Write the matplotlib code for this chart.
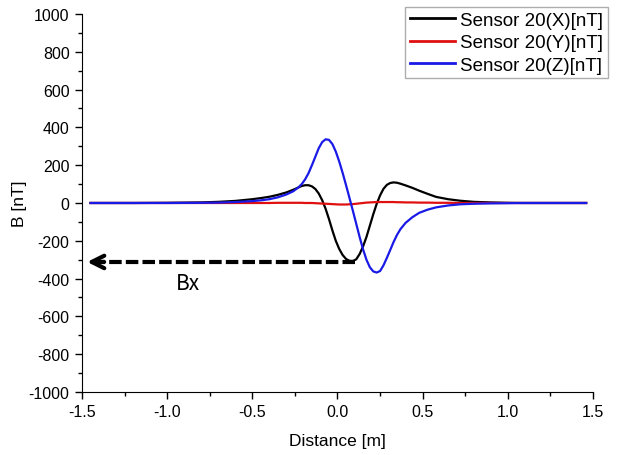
import matplotlib
matplotlib.use("Agg")
import matplotlib.pyplot as plt
from matplotlib.ticker import MultipleLocator

plt.rcParams["font.family"] = ["Liberation Sans", "DejaVu Sans"]
plt.rcParams["axes.unicode_minus"] = False

# Sensor 20 readings (distance in m, field in nT)
x_dist = [-1.45, -1.2, -1.0, -0.8, -0.7, -0.6, -0.5, -0.45, -0.4, -0.35, -0.3,
          -0.26, -0.23, -0.21, -0.19, -0.17, -0.15, -0.13, -0.11, -0.09, -0.07,
          -0.05, -0.03, -0.01, 0.01, 0.03, 0.05, 0.07, 0.09, 0.11, 0.13, 0.15,
          0.17, 0.19, 0.21, 0.23, 0.25, 0.27, 0.29, 0.31, 0.33, 0.35, 0.37,
          0.40, 0.44, 0.48, 0.53, 0.58, 0.65, 0.72, 0.80, 0.90, 1.0, 1.1,
          1.2, 1.3, 1.46]

bx = [0, 0, 1, 3, 6, 11, 20, 26, 33, 43, 56,
      70, 82, 90, 94, 94, 88, 74, 50, 15, -30,
      -85, -145, -200, -243, -275, -296, -306, -307, -298, -270, -230,
      -180, -120, -60, -5, 40, 75, 96, 106, 109, 107, 102,
      93, 80, 65, 48, 32, 20, 12, 6, 3, 1, 0,
      0, 0, 0]

by = [0, 0, 0, 0, 0, 0, 0, 0, 0, 1, 1,
      1, 1, 1, 0, 0, 0, -1, -2, -3, -4,
      -5, -6, -7, -8, -8, -8, -7, -6, -4, -2, 0,
      2, 3, 4, 5, 5, 5, 5, 5, 5, 4, 4,
      3, 3, 2, 2, 1, 1, 0, 0, 0, 0, 0,
      0, 0, 0]

bz = [0, 0, 0, 1, 2, 5, 10, 14, 20, 30, 45,
      62, 82, 100, 125, 158, 200, 245, 290, 322, 337,
      334, 312, 272, 220, 160, 95, 28, -40, -110, -180, -245,
      -300, -340, -362, -368, -360, -330, -290, -248, -205, -168, -138,
      -105, -75, -52, -35, -23, -13, -7, -4, -2, -1, 0,
      0, 0, 0]

labels = ["Sensor 20(X)[nT]", "Sensor 20(Y)[nT]", "Sensor 20(Z)[nT]"]
colors = ["#000000", "#e01010", "#1a1ae6"]

# arrow marking the Bx minimum
bx_arrow_from = (0.10, -312)
bx_arrow_to = (-1.47, -312)
bx_text_pos = (-0.88, -425)

fig = plt.figure(figsize=(6.18, 4.56), dpi=100)
ax = fig.add_axes([0.1327, 0.1382, 0.8268, 0.8289])

for series, lab, col in zip([bx, by, bz], labels, colors):
    ax.plot(x_dist, series, color=col, lw=1.6, label=lab)

# dashed shaft + solid open head
ax.plot([bx_arrow_from[0], bx_arrow_to[0] + 0.02], [bx_arrow_from[1], bx_arrow_to[1]],
        color="black", lw=3, dashes=(3, 1), solid_capstyle="butt")
ax.annotate("", xy=bx_arrow_to, xytext=(bx_arrow_to[0] + 0.1, bx_arrow_to[1]),
            arrowprops=dict(arrowstyle="->,head_length=0.9,head_width=0.45",
                            lw=3, color="black", shrinkA=0, shrinkB=0))
ax.text(bx_text_pos[0], bx_text_pos[1], "Bx", fontsize=15, ha="center", va="center",
        family=["Noto Sans CJK KR", "DejaVu Sans"])

ax.set_xlim(-1.5, 1.5)
ax.set_ylim(-1000, 1000)
ax.xaxis.set_major_locator(MultipleLocator(0.5))
ax.xaxis.set_minor_locator(MultipleLocator(0.25))
ax.yaxis.set_major_locator(MultipleLocator(200))
ax.yaxis.set_minor_locator(MultipleLocator(100))
ax.set_xticklabels([f"{v:.1f}" for v in ax.get_xticks()])
ax.tick_params(which="major", direction="out", length=5, width=1, labelsize=11.5, pad=4)
ax.tick_params(which="minor", direction="out", length=3, width=1)
ax.spines["top"].set_visible(False)
ax.spines["right"].set_visible(False)
ax.set_xlabel("Distance [m]", fontsize=12.5, labelpad=10)
ax.set_ylabel("B [nT]", fontsize=12.5, labelpad=1)

leg = ax.legend(loc="upper right", bbox_to_anchor=(608 / 618, 1 - 8 / 456),
                bbox_transform=fig.transFigure, fontsize=13.5, frameon=True,
                fancybox=False, edgecolor="#999999", borderpad=0.25,
                borderaxespad=0, handlelength=2.4, handletextpad=0.3,
                labelspacing=0.28)
leg.get_frame().set_linewidth(1.0)
for h in leg.get_lines():
    h.set_linewidth(2)

fig.savefig("out.png", dpi=100)
